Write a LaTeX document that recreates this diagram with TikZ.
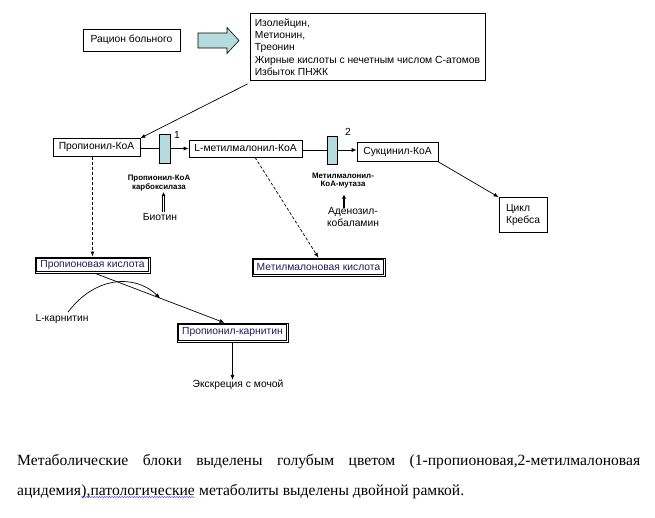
\documentclass[tikz,border=0pt]{standalone}
\usepackage{fontspec}
\setmainfont{Liberation Sans}
\newfontfamily\timesf{Liberation Serif}
\usetikzlibrary{arrows.meta,decorations.pathmorphing,calc}
\definecolor{enzfill}{HTML}{B4DCDC}
\definecolor{navytext}{HTML}{1C1C5C}
\begin{document}
\begin{tikzpicture}[x=1pt,y=-1pt,
  font=\fontsize{10.3}{12}\selectfont,
  >={Latex[length=5pt,width=4pt]},
  box/.style={draw, line width=0.7pt, inner sep=0pt},
  dbox/.style={draw, line width=0.5pt, inner sep=0pt, text=navytext},
  inner/.style={line width=0.5pt},
  enz/.style={draw, fill=enzfill, line width=0.6pt, inner sep=0pt, minimum width=10.5pt},
  conn/.style={line width=0.7pt, ->},
  plain/.style={line width=0.7pt},
  thinline/.style={line width=0.45pt},
  dconn/.style={conn, dash pattern=on 3pt off 2pt},
  enzlab/.style={font=\bfseries\fontsize{7.9}{8.8}\selectfont, align=center, inner sep=0pt},
  lab/.style={inner sep=0pt, align=center},
  captext/.style={inner sep=0pt, font=\timesf\fontsize{15.6}{18}\selectfont}
]
\useasboundingbox (0,0) rectangle (655,517);

% top
\node[box, minimum width=97pt, minimum height=22pt] (diet) at (131.5,40) {Рацион больного};
\node[box, minimum width=235pt, minimum height=67pt, align=left,
      font=\fontsize{10.3}{12.3}\selectfont] (src) at (367.5,47)
  {Изолейцин,\\Метионин,\\Треонин\\Жирные кислоты с нечетным числом С-атомов\\Избыток ПНЖК};
\draw[fill=enzfill, line width=0.6pt] (198,33) -- (227,33) -- (227,27.5) -- (239,40.5)
  -- (227,53.5) -- (227,48) -- (198,48) -- cycle;

% main chain
\node[box, minimum width=87pt, minimum height=18pt] (pkoa) at (96.5,147.5) {Пропионил-КоА};
\node[enz, minimum height=29pt] (e1) at (165,148.5) {};
\node[box, minimum width=113pt, minimum height=17pt] (lmm) at (245.5,148.5) {L-метилмалонил-КоА};
\node[enz, minimum height=28pt] (e2) at (332.5,150) {};
\node[box, minimum width=81pt, minimum height=19pt] (succ) at (397.5,152) {Сукцинил-КоА};
\node[box, minimum width=48pt, minimum height=35pt, align=left] (krebs) at (523,215) {Цикл\\Кребса};

\node[lab] (n1) at (177,135) {1};
\node[lab] (n2) at (348,132) {2};

\draw[conn] ([xshift=-2pt,yshift=-3pt]src.south west) -- (pkoa.north east);
\draw[plain] (pkoa.east |- e1.west) -- (e1.west);
\draw[conn] (e1.east) -- (e1.east -| lmm.west);
\draw[plain] (lmm.east |- e2.west) -- (e2.west);
\draw[conn] (e2.east) -- (e2.east -| succ.west);
\draw[conn] (succ.south east) -- (krebs.north west);

% enzymes and cofactors
\node[enzlab] (en1) at (159,183) {Пропионил-КоА\\карбоксилаза};
\node[lab] (bio) at (160,217) {Биотин};
\coordinate (bioA) at ([xshift=3.5pt,yshift=1pt]bio.north);
\coordinate (bioB) at ([xshift=3.5pt,yshift=-1pt]bio.north |- en1.south);
\draw[thinline] ([xshift=-0.9pt]bioA) -- ([xshift=-0.9pt,yshift=-3pt]bioB);
\draw[thinline] ([xshift=0.9pt]bioA) -- ([xshift=0.9pt,yshift=-3pt]bioB);
\draw[thinline, -{Latex[length=4pt,width=4pt]}] ([yshift=-2pt]bioB) -- (bioB);
\node[enzlab] (en2) at (343,180.5) {Метилмалонил-\\КоА-мутаза};
\node[lab, font=\fontsize{10.3}{12}\selectfont] (aden) at (353,217) {Аденозил-\\кобаламин};
\draw[line width=1.5pt, -{Latex[length=4pt,width=4.5pt]}]
  ([xshift=-9pt,yshift=-1pt]aden.north) -- ([xshift=-9pt,yshift=-6pt]aden.north |- en2.south);

% pathological metabolites (double frames)
\node[dbox, minimum width=115pt, minimum height=16.5pt] (pk) at (92.5,265) {Пропионовая кислота};
\node[dbox, minimum width=133pt, minimum height=18pt] (mk) at (318.5,267) {Метилмалоновая кислота};
\node[dbox, minimum width=111pt, minimum height=19pt] (pc) at (232.5,332.5) {Пропионил-карнитин};
\foreach \n in {pk,mk,pc}
  \draw[inner] ([shift={(1.8pt,-1.8pt)}]\n.north west) rectangle ([shift={(-1.8pt,1.8pt)}]\n.south east);

\draw[dconn] (pk.north |- pkoa.south) -- (pk.north);
\coordinate (lmmd) at ([xshift=9.5pt]lmm.south);
\draw[dconn] (lmmd) -- (mk.north);

\coordinate (pka) at ([xshift=3pt]pk.south);
\coordinate (pcb) at ([xshift=-8pt]pc.north);
\draw[conn] (pka) -- (pcb);
\coordinate (join) at ($(pka)!0.5!(pcb)$);
\node[lab] (lcarn) at (62,319) {L-карнитин};
\coordinate (lc) at ([xshift=6pt,yshift=2pt]lcarn.north);
\draw[conn] (lc) .. controls (95,276) and (135,274) .. (join);

\node[lab] (exc) at (238,385) {Экскреция с мочой};
\draw[conn] (pc.south) -- (pc.south |- exc.north);

% caption
\node[captext, anchor=west] (cap1) at (17,462)
  {\makebox[623pt][s]{Метаболические блоки выделены голубым цветом (1-пропионовая,2-метилмалоновая}};
\node[captext, anchor=base west] (cap2a) at (17,495) {ацидемия};
\node[captext, anchor=base west] (cap2b) at (cap2a.base east) {),патологические};
\node[captext, anchor=base west] (cap2c) at (cap2b.base east) {\ метаболиты выделены двойной рамкой.};
\draw[blue!70, line width=0.4pt, decorate, decoration={snake, amplitude=0.7pt, segment length=2.5pt}]
  ([yshift=-2pt]cap2b.base west) -- ([yshift=-2pt]cap2b.base east);
\end{tikzpicture}
\end{document}
